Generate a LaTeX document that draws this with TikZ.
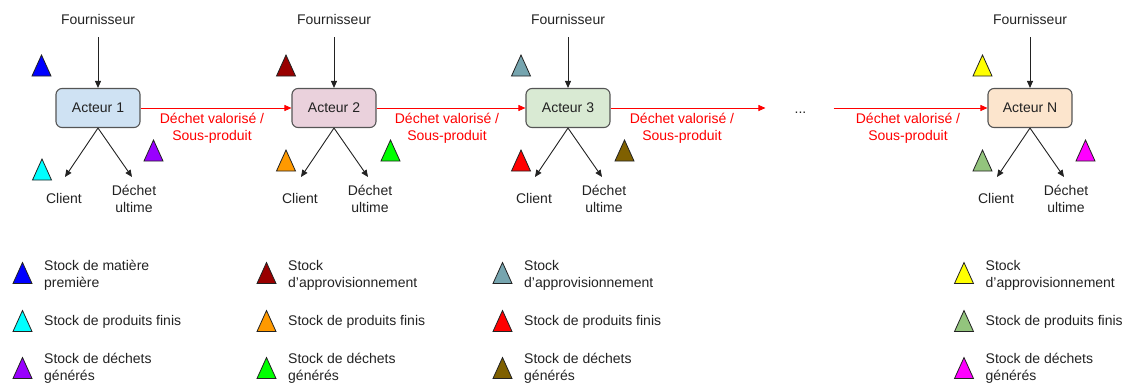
\documentclass[tikz,border=0pt]{standalone}
\usepackage{fontspec}
\setmainfont{Liberation Sans}
\usetikzlibrary{arrows.meta,calc}
\definecolor{ink}{HTML}{222222}
\definecolor{boxline}{HTML}{555555}
\definecolor{wred}{HTML}{FF0000}
\definecolor{boxA}{HTML}{CFE2F3}
\definecolor{boxB}{HTML}{EAD1DC}
\definecolor{boxC}{HTML}{D9EAD3}
\definecolor{boxD}{HTML}{FCE5CD}
\definecolor{tBlue}{HTML}{0000FF}
\definecolor{tDarkred}{HTML}{990000}
\definecolor{tSteel}{HTML}{76A5AF}
\definecolor{tYellow}{HTML}{FFFF00}
\definecolor{tCyan}{HTML}{00FFFF}
\definecolor{tOrange}{HTML}{FF9900}
\definecolor{tRed}{HTML}{FF0000}
\definecolor{tSage}{HTML}{93C47D}
\definecolor{tPurple}{HTML}{9900FF}
\definecolor{tLime}{HTML}{00FF00}
\definecolor{tBrown}{HTML}{7F6000}
\definecolor{tMagenta}{HTML}{FF00FF}
\begin{document}
\begin{tikzpicture}[x=1pt,y=-1pt,
  txt/.style={inner sep=0pt, text=ink, font=\fontsize{14}{17}\selectfont},
  mtxt/.style={txt, align=center},
  ltxt/.style={txt, align=left},
  rtxt/.style={txt, align=center, text=wred},
  actor/.style={draw=boxline, line width=1.1pt, rounded corners=6pt,
    minimum width=84pt, minimum height=39pt, inner sep=0pt, text=ink,
    font=\fontsize{14}{17}\selectfont},
  arr/.style={draw=ink, line width=0.9pt, -{Triangle[length=7pt,width=6pt]}},
  rarr/.style={draw=wred, line width=0.9pt, -{Triangle[length=7pt,width=6pt]}},
  stk/.pic={\draw[draw=ink, line width=0.8pt, fill=#1]
    (-9.5,10.5) -- (9.5,10.5) -- (0,-10.5) -- cycle;}
]
\useasboundingbox (0,0) rectangle (1125,383);

% actors
\foreach \n/\x/\fc/\lab in {1/98/boxA/Acteur 1, 2/334/boxB/Acteur 2,
                            3/568/boxC/Acteur 3, 4/1030/boxD/Acteur N}{
  \node[actor, fill=\fc] (a\n) at (\x,108) {\lab};
  \node[txt, anchor=base] (f\n) at (\x,24) {Fournisseur};
  \draw[arr, shorten <=13pt] (f\n) -- (a\n);
  \node[txt, anchor=base] (c\n) at ({\x-34},203) {Client};
  \draw[arr] (a\n.south) -- ($(c\n.base)+(1,-26)$);
  \node[mtxt, anchor=north] (d\n) at ({\x+36},184.5) {Déchet\\ultime};
  \draw[arr] (a\n.south) -- ($(d\n.north)+(-2,-7.5)$);
}

% red flows
\node[txt, anchor=base] (dots) at (800.5,113) {...};
\draw[rarr] (a1) -- (a2);
\draw[rarr] (a2) -- (a3);
\draw[rarr, shorten >=29pt] (a3.east) -- (a3.east -| dots.west);
\draw[rarr, shorten <=27pt] (dots.east |- a4.west) -- (a4.west);
\node[rtxt, anchor=north] (l1) at (212,112.7) {Déchet valorisé /\\Sous-produit};
\node[rtxt, anchor=north] (l2) at (447,112.7) {Déchet valorisé /\\Sous-produit};
\node[rtxt, anchor=north] (l3) at (682,112.7) {Déchet valorisé /\\Sous-produit};
\node[rtxt, anchor=north] (l4) at (908,112.7) {Déchet valorisé /\\Sous-produit};

% stock triangles in the diagram
\pic at (41.5,65.5) {stk=tBlue};
\pic at (42,169.5) {stk=tCyan};
\pic at (153.5,150.5) {stk=tPurple};
\pic at (286,65.5) {stk=tDarkred};
\pic at (286,160.5) {stk=tOrange};
\pic at (390.5,150.5) {stk=tLime};
\pic at (521,65.5) {stk=tSteel};
\pic at (521,160.5) {stk=tRed};
\pic at (624.5,150.5) {stk=tBrown};
\pic at (982.5,65.5) {stk=tYellow};
\pic at (982.5,160.5) {stk=tSage};
\pic at (1085.5,150.5) {stk=tMagenta};

% legend
\pic at (22.5,273) {stk=tBlue};
\pic at (22.5,321) {stk=tCyan};
\pic at (22.5,368) {stk=tPurple};
\node[ltxt, anchor=north west] (g11) at (44,259.7) {Stock de matière\\première};
\node[txt, anchor=base west] (g12) at (44,325.5) {Stock de produits finis};
\node[ltxt, anchor=north west] (g13) at (44,352.7) {Stock de déchets\\générés};

\pic at (266.5,273) {stk=tDarkred};
\pic at (266.5,321) {stk=tOrange};
\pic at (266.5,368) {stk=tLime};
\node[ltxt, anchor=north west] (g21) at (288,259.7) {Stock\\d’approvisionnement};
\node[txt, anchor=base west] (g22) at (288,325.5) {Stock de produits finis};
\node[ltxt, anchor=north west] (g23) at (288,352.7) {Stock de déchets\\générés};

\pic at (502.5,273) {stk=tSteel};
\pic at (502.5,321) {stk=tRed};
\pic at (502.5,368) {stk=tBrown};
\node[ltxt, anchor=north west] (g31) at (524,259.7) {Stock\\d’approvisionnement};
\node[txt, anchor=base west] (g32) at (524,325.5) {Stock de produits finis};
\node[ltxt, anchor=north west] (g33) at (524,352.7) {Stock de déchets\\générés};

\pic at (964,273) {stk=tYellow};
\pic at (964,321) {stk=tSage};
\pic at (964,368) {stk=tMagenta};
\node[ltxt, anchor=north west] (g41) at (985.5,259.7) {Stock\\d’approvisionnement};
\node[txt, anchor=base west] (g42) at (985.5,325.5) {Stock de produits finis};
\node[ltxt, anchor=north west] (g43) at (985.5,352.7) {Stock de déchets\\générés};
\end{tikzpicture}
\end{document}
